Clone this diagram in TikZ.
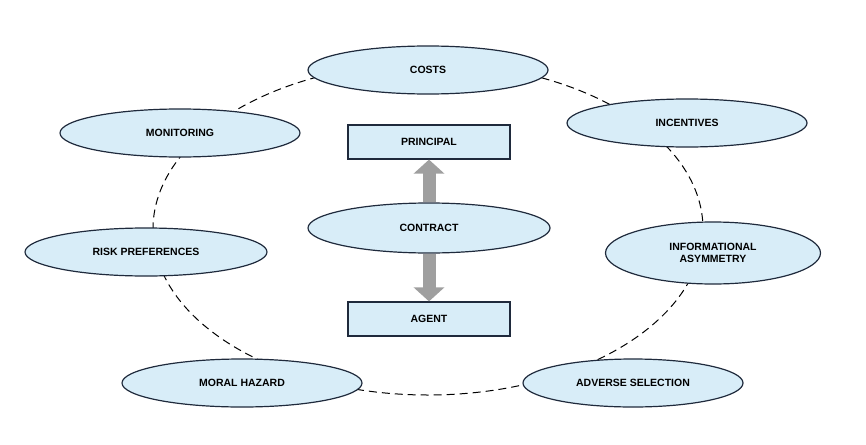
\documentclass[tikz,border=0pt]{standalone}
\usepackage{fontspec}
\setmainfont{Liberation Sans}
\usetikzlibrary{shapes.geometric,arrows.meta}
\definecolor{oval}{HTML}{D8EDF8}
\definecolor{rim}{HTML}{1F2A3C}
\tikzset{
  factor/.style={draw=rim,line width=1.2pt,fill=oval,shape=ellipse,minimum width=240pt,minimum height=48pt,inner sep=0pt,font=\bfseries\fontsize{10.5}{12}\selectfont,align=center},
  party/.style={draw=rim,line width=1.2pt,fill=oval,minimum width=162pt,minimum height=34pt,font=\bfseries\fontsize{10.5}{12}\selectfont},
  link/.style={line width=13pt,draw=gray!75,-{Triangle[width=30pt,length=14pt]}}
}
\begin{document}
\begin{tikzpicture}[x=1pt,y=-1pt]
      \useasboundingbox (0,0) rectangle (866,444);
      \draw[line width=1pt,dash pattern=on 8pt off 5pt] (428,229) ellipse [x radius=275,y radius=166];

      \path (428,70)  node[factor] (costs)  {COSTS};
      \path (180,133) node[factor] (mon)    {MONITORING};
      \path (687,123) node[factor] (inc)    {INCENTIVES};
      \path (146,252) node[factor,minimum width=242pt] (risk) {RISK PREFERENCES};
      \path (713,253) node[factor,minimum width=215pt,minimum height=62pt] (info) {INFORMATIONAL\\ASYMMETRY};
      \path (242,383) node[factor] (moral)  {MORAL HAZARD};
      \path (633,383) node[factor,minimum width=220pt] (adv) {ADVERSE SELECTION};
      \path (429,228) node[factor,minimum width=242pt,minimum height=50pt] (con) {CONTRACT};
      \path (429,142) node[party] (prin)    {PRINCIPAL};
      \path (429,319) node[party] (agent)   {AGENT};

      \draw[link] (con) -- (prin);
      \draw[link] (con) -- (agent);

    \end{tikzpicture}
\end{document}
